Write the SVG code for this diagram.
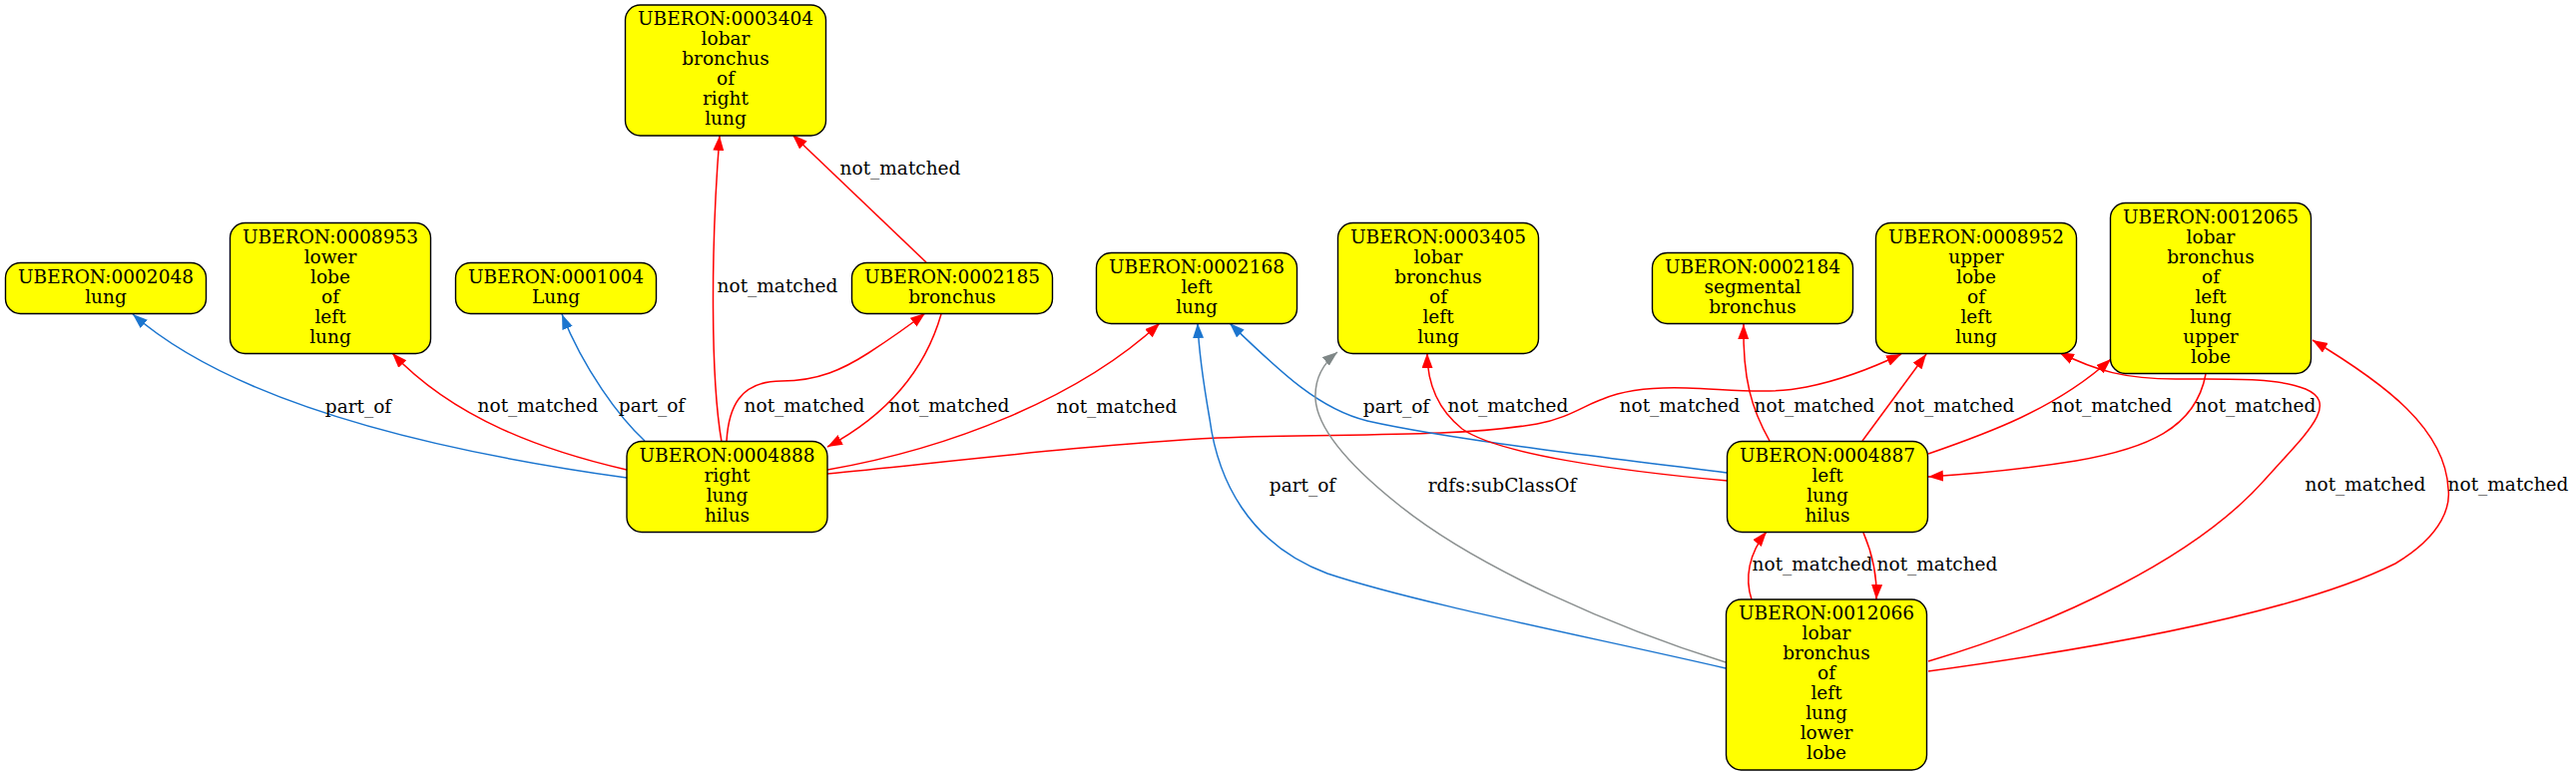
<svg xmlns="http://www.w3.org/2000/svg" width="2581" height="777" viewBox="0 0 2581 777">
<style>
.node rect{fill:#ffff00;stroke:#000;stroke-width:1.4}
text{font-family:"DejaVu Serif","Liberation Serif",serif;font-size:18.5px;fill:#000;text-anchor:middle}
.e{fill:none;stroke-width:1.5}
.r{stroke:#ff0000}
.b{stroke:#1b75cf}
.g{stroke:#8a8f8f}
</style>
<defs>
<marker id="ar" markerUnits="userSpaceOnUse" markerWidth="16" markerHeight="12" refX="15" refY="5.5" orient="auto"><path d="M0,0 L15,5.5 L0,11 z" fill="#ff0000"/></marker>
<marker id="ab" markerUnits="userSpaceOnUse" markerWidth="16" markerHeight="12" refX="15" refY="5.5" orient="auto"><path d="M0,0 L15,5.5 L0,11 z" fill="#1b75cf"/></marker>
<marker id="ag" markerUnits="userSpaceOnUse" markerWidth="16" markerHeight="12" refX="15" refY="5.5" orient="auto"><path d="M0,0 L15,5.5 L0,11 z" fill="#7f8787"/></marker>
</defs>
<rect width="2581" height="777" fill="#fff"/>
<g id="edges">
<path class="e b" marker-end="url(#ab)" d="M628,479 C420,450 230,400 133,315"/>
<path class="e r" marker-end="url(#ar)" d="M628,471 C545,452 455,420 393,354"/>
<path class="e b" marker-end="url(#ab)" d="M646,442 C620,418 585,370 563,315"/>
<path class="e r" marker-end="url(#ar)" d="M723,443 C712,380 712,250 721,136"/>
<path class="e r" marker-end="url(#ar)" d="M728,442 C730,410 740,382 783,382 C820,382 845,370 870,354 C890,341 910,327 927,314"/>
<path class="e r" marker-end="url(#ar)" d="M943,315 C930,360 900,410 829,448"/>
<path class="e r" marker-end="url(#ar)" d="M928,263 L794,135"/>
<path class="e r" marker-end="url(#ar)" d="M829,471 C950,450 1080,400 1162,324"/>
<path class="e r" marker-end="url(#ar)" d="M829,475 C950,463 1100,445 1220,439 C1330,434 1450,440 1540,425 C1570,420 1590,405 1606,400 C1630,390 1660,388 1690,389 C1730,390 1770,396 1810,388 C1850,380 1880,367 1905,355"/>
<path class="e b" marker-end="url(#ab)" d="M1731,474 C1600,458 1450,440 1370,422 C1320,410 1280,370 1232,324"/>
<path class="e r" marker-end="url(#ar)" d="M1731,482 C1620,472 1500,455 1465,430 C1440,410 1430,385 1430,354"/>
<path class="e r" marker-end="url(#ar)" d="M1773,442 C1755,410 1746,380 1747,325"/>
<path class="e r" marker-end="url(#ar)" d="M1866,442 L1930,355"/>
<path class="e r" marker-end="url(#ar)" d="M1932,455 C1990,435 2060,410 2115,360"/>
<path class="e r" marker-end="url(#ar)" d="M2210,375 C2200,430 2150,450 2080,462 C2030,470 1980,475 1932,478"/>
<path class="e r" marker-end="url(#ar)" d="M1867,534 C1876,555 1881,575 1880,601"/>
<path class="e r" marker-end="url(#ar)" d="M1755,601 C1748,580 1752,555 1770,533"/>
<path class="e b" marker-end="url(#ab)" d="M1729,670 C1600,640 1420,605 1330,575 C1250,545 1220,480 1212,420 C1205,380 1201,350 1200,324"/>
<path class="e g" marker-end="url(#ag)" d="M1729,664 C1620,630 1480,570 1400,505 C1350,465 1320,430 1318,400 C1317,380 1325,365 1340,353"/>
<path class="e r" marker-end="url(#ar)" d="M1932,663 C2060,625 2200,560 2270,480 C2310,435 2345,405 2310,390 C2280,378 2230,380 2180,380 C2130,380 2100,372 2063,353"/>
<path class="e r" marker-end="url(#ar)" d="M1932,673 C2100,650 2300,615 2400,565 C2450,535 2455,505 2453,490 C2450,430 2390,385 2317,341"/>
<text x="359" y="414">part_of</text>
<text x="539" y="413">not_matched</text>
<text x="653" y="413">part_of</text>
<text x="779" y="293">not_matched</text>
<text x="902" y="175">not_matched</text>
<text x="806" y="413">not_matched</text>
<text x="951" y="413">not_matched</text>
<text x="1119" y="414">not_matched</text>
<text x="1399" y="414">part_of</text>
<text x="1511" y="413">not_matched</text>
<text x="1683" y="413">not_matched</text>
<text x="1818" y="413">not_matched</text>
<text x="1958" y="413">not_matched</text>
<text x="2116" y="413">not_matched</text>
<text x="2260" y="413">not_matched</text>
<text x="1816" y="572">not_matched</text>
<text x="1941" y="572">not_matched</text>
<text x="1305" y="493">part_of</text>
<text x="1505" y="493">rdfs:subClassOf</text>
<text x="2370" y="492">not_matched</text>
<text x="2513" y="492">not_matched</text>
</g>
<g id="n0002048" class="node"><rect x="5.5" y="263.5" width="201" height="51" rx="15"/><text x="106"><tspan x="106" y="283.5">UBERON:0002048</tspan><tspan x="106" y="303.5">lung</tspan></text></g>
<g id="n0008953" class="node"><rect x="230.5" y="223.5" width="201" height="131" rx="15"/><text><tspan x="331" y="243.5">UBERON:0008953</tspan><tspan x="331" y="263.5">lower</tspan><tspan x="331" y="283.5">lobe</tspan><tspan x="331" y="303.5">of</tspan><tspan x="331" y="323.5">left</tspan><tspan x="331" y="343.5">lung</tspan></text></g>
<g id="n0001004" class="node"><rect x="456.5" y="263.5" width="201" height="51" rx="15"/><text><tspan x="557" y="283.5">UBERON:0001004</tspan><tspan x="557" y="303.5">Lung</tspan></text></g>
<g id="n0003404" class="node"><rect x="626.5" y="5" width="201" height="131" rx="15"/><text><tspan x="727" y="25">UBERON:0003404</tspan><tspan x="727" y="45">lobar</tspan><tspan x="727" y="65">bronchus</tspan><tspan x="727" y="85">of</tspan><tspan x="727" y="105">right</tspan><tspan x="727" y="125">lung</tspan></text></g>
<g id="n0002185" class="node"><rect x="853.5" y="263.5" width="201" height="51" rx="15"/><text><tspan x="954" y="283.5">UBERON:0002185</tspan><tspan x="954" y="303.5">bronchus</tspan></text></g>
<g id="n0002168" class="node"><rect x="1098.5" y="253.5" width="201" height="71" rx="15"/><text><tspan x="1199" y="273.5">UBERON:0002168</tspan><tspan x="1199" y="293.5">left</tspan><tspan x="1199" y="313.5">lung</tspan></text></g>
<g id="n0003405" class="node"><rect x="1340.5" y="223.5" width="201" height="131" rx="15"/><text><tspan x="1441" y="243.5">UBERON:0003405</tspan><tspan x="1441" y="263.5">lobar</tspan><tspan x="1441" y="283.5">bronchus</tspan><tspan x="1441" y="303.5">of</tspan><tspan x="1441" y="323.5">left</tspan><tspan x="1441" y="343.5">lung</tspan></text></g>
<g id="n0002184" class="node"><rect x="1655.5" y="253.5" width="201" height="71" rx="15"/><text><tspan x="1756" y="273.5">UBERON:0002184</tspan><tspan x="1756" y="293.5">segmental</tspan><tspan x="1756" y="313.5">bronchus</tspan></text></g>
<g id="n0008952" class="node"><rect x="1879.5" y="223.5" width="201" height="131" rx="15"/><text><tspan x="1980" y="243.5">UBERON:0008952</tspan><tspan x="1980" y="263.5">upper</tspan><tspan x="1980" y="283.5">lobe</tspan><tspan x="1980" y="303.5">of</tspan><tspan x="1980" y="323.5">left</tspan><tspan x="1980" y="343.5">lung</tspan></text></g>
<g id="n0012065" class="node"><rect x="2114.5" y="203.5" width="201" height="171" rx="15"/><text><tspan x="2215" y="223.5">UBERON:0012065</tspan><tspan x="2215" y="243.5">lobar</tspan><tspan x="2215" y="263.5">bronchus</tspan><tspan x="2215" y="283.5">of</tspan><tspan x="2215" y="303.5">left</tspan><tspan x="2215" y="323.5">lung</tspan><tspan x="2215" y="343.5">upper</tspan><tspan x="2215" y="363.5">lobe</tspan></text></g>
<g id="n0004888" class="node"><rect x="628" y="442.5" width="201" height="91" rx="15"/><text><tspan x="728.5" y="462.5">UBERON:0004888</tspan><tspan x="728.5" y="482.5">right</tspan><tspan x="728.5" y="502.5">lung</tspan><tspan x="728.5" y="522.5">hilus</tspan></text></g>
<g id="n0004887" class="node"><rect x="1730.5" y="442.5" width="201" height="91" rx="15"/><text><tspan x="1831" y="462.5">UBERON:0004887</tspan><tspan x="1831" y="482.5">left</tspan><tspan x="1831" y="502.5">lung</tspan><tspan x="1831" y="522.5">hilus</tspan></text></g>
<g id="n0012066" class="node"><rect x="1729.5" y="601" width="201" height="171" rx="15"/><text><tspan x="1830" y="621">UBERON:0012066</tspan><tspan x="1830" y="641">lobar</tspan><tspan x="1830" y="661">bronchus</tspan><tspan x="1830" y="681">of</tspan><tspan x="1830" y="701">left</tspan><tspan x="1830" y="721">lung</tspan><tspan x="1830" y="741">lower</tspan><tspan x="1830" y="761">lobe</tspan></text></g>
</svg>
